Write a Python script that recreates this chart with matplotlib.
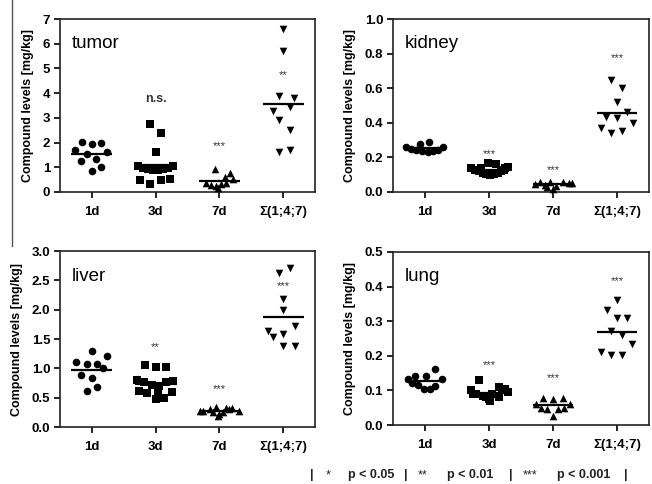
import numpy as np
import matplotlib
matplotlib.use("Agg")
import matplotlib.pyplot as plt
from matplotlib.lines import Line2D

plt.rcParams['font.family'] = ['Liberation Sans', 'DejaVu Sans']

# Groupes (abscisses)
groups = ["1d", "3d", "7d", "\u03a3(1;4;7)"]
markers = ["o", "s", "^", "v"]

# tumor
tumor_1d = [2.01, 1.93, 1.97, 1.70, 1.53, 1.63, 1.26, 1.34, 1.02, 0.85]
tumor_1d_dx = [-0.16, 0.0, 0.15, -0.27, -0.08, 0.24, -0.17, 0.07, 0.15, 0.0]
tumor_3d = [2.74, 2.37, 1.61, 1.07, 0.96, 0.92, 0.89, 0.89, 0.92, 0.96, 1.07, 0.49, 0.31, 0.49, 0.51]
tumor_3d_dx = [-0.09, 0.08, 0.0, -0.28, -0.2, -0.12, -0.04, 0.04, 0.12, 0.2, 0.28, -0.24, -0.09, 0.08, 0.23]
tumor_7d = [0.93, 0.76, 0.60, 0.53, 0.35, 0.28, 0.26, 0.31, 0.35, 0.15]
tumor_7d_dx = [-0.07, 0.17, 0.09, 0.22, -0.21, -0.13, -0.05, 0.03, 0.10, -0.02]
tumor_sum = [6.60, 5.71, 3.90, 3.79, 3.45, 3.28, 2.91, 2.51, 1.63, 1.70]
tumor_sum_dx = [0.0, 0.0, -0.07, 0.17, 0.10, -0.16, -0.07, 0.10, -0.07, 0.10]
tumor_sig = ["", "n.s.", "***", "**"]
tumor_sig_y = [0, 3.75, 1.85, 4.75]

# kidney
kidney_1d = [0.29, 0.28, 0.26, 0.25, 0.24, 0.235, 0.23, 0.235, 0.245, 0.26]
kidney_1d_dx = [0.07, -0.08, -0.30, -0.22, -0.14, -0.05, 0.04, 0.12, 0.20, 0.28]
kidney_3d = [0.165, 0.16, 0.14, 0.14, 0.13, 0.12, 0.11, 0.105, 0.10, 0.105, 0.11, 0.12, 0.13, 0.14, 0.145]
kidney_3d_dx = [-0.02, 0.11, -0.28, 0.25, -0.22, -0.16, -0.10, -0.04, 0.02, 0.08, 0.14, 0.19, 0.24, -0.12, 0.30]
kidney_7d = [0.06, 0.055, 0.06, 0.05, 0.045, 0.04, 0.035, 0.03, 0.02, 0.05]
kidney_7d_dx = [-0.2, -0.05, 0.15, 0.25, -0.28, -0.12, 0.05, -0.1, 0.0, 0.3]
kidney_sum = [0.647, 0.60, 0.52, 0.46, 0.435, 0.426, 0.40, 0.37, 0.34, 0.35]
kidney_sum_dx = [-0.09, 0.08, 0.0, 0.16, -0.17, 0.0, 0.25, -0.25, -0.09, 0.08]
kidney_sig = ["", "***", "***", "***"]
kidney_sig_y = [0, 0.22, 0.125, 0.775]

# liver
liver_1d = [1.29, 1.21, 1.10, 1.08, 1.08, 1.00, 0.89, 0.84, 0.69, 0.61]
liver_1d_dx = [0.0, 0.24, -0.25, -0.08, 0.08, 0.17, -0.17, 0.0, 0.08, -0.08]
liver_3d = [1.06, 1.03, 1.03, 0.80, 0.76, 0.72, 0.70, 0.76, 0.78, 0.61, 0.58, 0.62, 0.60, 0.48, 0.49]
liver_3d_dx = [-0.17, 0.0, 0.16, -0.29, -0.18, -0.06, 0.06, 0.17, 0.28, -0.26, -0.13, 0.03, 0.25, 0.0, 0.13]
liver_7d = [0.34, 0.33, 0.32, 0.30, 0.28, 0.27, 0.26, 0.25, 0.22, 0.19, 0.30, 0.28]
liver_7d_dx = [-0.05, 0.10, 0.20, -0.15, -0.25, 0.30, -0.10, 0.05, 0.0, -0.02, 0.15, -0.30]
liver_sum = [2.71, 2.62, 2.19, 1.99, 1.72, 1.64, 1.54, 1.58, 1.38, 1.38]
liver_sum_dx = [0.10, -0.07, 0.0, 0.0, 0.18, -0.23, -0.16, 0.0, 0.0, 0.18]
liver_sig = ["", "**", "***", "***"]
liver_sig_y = [0, 1.37, 0.64, 2.40]

# lung
lung_1d = [0.161, 0.143, 0.143, 0.132, 0.132, 0.116, 0.114, 0.103, 0.103, 0.12]
lung_1d_dx = [0.16, -0.15, 0.01, -0.27, 0.26, -0.11, 0.16, -0.01, 0.08, -0.20]
lung_3d = [0.13, 0.11, 0.105, 0.10, 0.095, 0.09, 0.09, 0.085, 0.08, 0.08, 0.075, 0.07, 0.10, 0.09]
lung_3d_dx = [-0.15, 0.15, 0.25, -0.28, 0.30, -0.20, 0.05, -0.10, 0.15, -0.05, 0.0, 0.02, 0.20, -0.25]
lung_7d = [0.079, 0.075, 0.079, 0.061, 0.061, 0.049, 0.045, 0.045, 0.049, 0.027]
lung_7d_dx = [-0.16, 0.0, 0.16, -0.26, 0.26, -0.18, -0.09, 0.08, 0.17, 0.0]
lung_sum = [0.361, 0.332, 0.31, 0.31, 0.272, 0.26, 0.233, 0.212, 0.203, 0.203]
lung_sum_dx = [0.0, -0.16, 0.0, 0.16, -0.09, 0.08, 0.24, -0.25, -0.09, 0.08]
lung_sig = ["", "***", "***", "***"]
lung_sig_y = [0, 0.173, 0.137, 0.416]

panels = [
    ("tumor", [tumor_1d, tumor_3d, tumor_7d, tumor_sum],
     [tumor_1d_dx, tumor_3d_dx, tumor_7d_dx, tumor_sum_dx], tumor_sig, tumor_sig_y,
     np.arange(0, 8, 1), "%d", [60, 192, 255, 173]),
    ("kidney", [kidney_1d, kidney_3d, kidney_7d, kidney_sum],
     [kidney_1d_dx, kidney_3d_dx, kidney_7d_dx, kidney_sum_dx], kidney_sig, kidney_sig_y,
     np.linspace(0, 1.0, 6), "%.1f", [393, 192, 256, 173]),
    ("liver", [liver_1d, liver_3d, liver_7d, liver_sum],
     [liver_1d_dx, liver_3d_dx, liver_7d_dx, liver_sum_dx], liver_sig, liver_sig_y,
     np.linspace(0, 3.0, 7), "%.1f", [60, 427, 255, 176]),
    ("lung", [lung_1d, lung_3d, lung_7d, lung_sum],
     [lung_1d_dx, lung_3d_dx, lung_7d_dx, lung_sum_dx], lung_sig, lung_sig_y,
     np.linspace(0, 0.5, 6), "%.1f", [393, 425, 256, 173]),
]

W, H = 652, 484
fig = plt.figure(figsize=(W / 100, H / 100), dpi=100)

for name, vals, dxs, sig, sig_y, yt, fmt, (l, b, w, h) in panels:
    ax = fig.add_axes([l / W, 1 - b / H, w / W, h / H])
    for i, (v, dx) in enumerate(zip(vals, dxs)):
        x = i + 1 + np.array(dx)
        ax.scatter(x, v, marker=markers[i], s=30, color="black", linewidths=0, clip_on=False, zorder=3)
        m = np.mean(v)
        ax.hlines(m, i + 1 - 0.32, i + 1 + 0.32, color="black", lw=1.6, zorder=4)
        if sig[i]:
            bold = "bold" if sig[i] == "n.s." else "normal"
            fs = 9 if sig[i] == "n.s." else 8
            ax.text(i + 1, sig_y[i], sig[i], ha="center", va="center", fontsize=fs,
                    fontweight=bold, color="#333333")
    ax.set_xlim(0.5, 4.5)
    ax.set_ylim(0, yt[-1])
    ax.set_yticks(yt)
    ax.set_yticklabels([fmt % t for t in yt], fontsize=9.5, fontweight="bold")
    ax.set_xticks([1, 2, 3, 4])
    ax.set_xticklabels(groups, fontsize=9.5, fontweight="bold")
    ax.tick_params(direction="out", length=4, width=1.2, pad=3)
    ax.tick_params(axis="x", pad=6)
    for s in ax.spines.values():
        s.set_linewidth(1.2)
        s.set_color("#222222")
    ax.set_ylabel("Compound levels [mg/kg]", fontsize=9, fontweight="bold", labelpad=6)
    ax.text(0.045, 0.83, name, transform=ax.transAxes, fontsize=13.5, va="baseline", ha="left")

# trait vertical à gauche
fig.add_artist(Line2D([12 / W, 12 / W], [1, 1 - 246 / H], color="#555555", lw=1))

# légende des seuils
legend_parts = [
    (310, "|", "bold"), (326, "*", "normal"), (348, "p < 0.05", "bold"),
    (404, "|", "bold"), (418, "**", "normal"), (447, "p < 0.01", "bold"),
    (509, "|", "bold"), (523, "***", "normal"), (557, "p < 0.001", "bold"),
    (624, "|", "bold"),
]
for px, txt, wgt in legend_parts:
    fig.text(px / W, 1 - 475 / H, txt, fontsize=9, fontweight=wgt, ha="left", va="center", color="#222222")

fig.savefig("out.png", dpi=100)
